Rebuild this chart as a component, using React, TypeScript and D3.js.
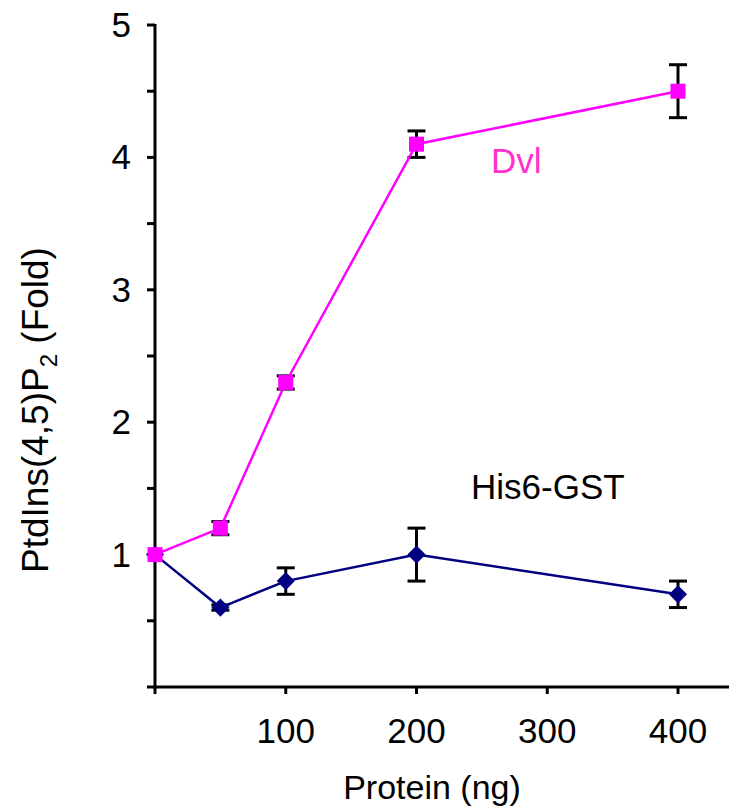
import React from 'react';
import * as d3 from 'd3';

// Protein amount (ng)
const protein = [0, 50, 100, 200, 400];

// PtdIns(4,5)P2 fold, mean and error
const dvlMean = [1.0, 1.2, 2.3, 4.1, 4.5];
const dvlErr = [0, 0.05, 0.05, 0.1, 0.2];
const gstMean = [1.0, 0.6, 0.8, 1.0, 0.7];
const gstErr = [0, 0.02, 0.1, 0.2, 0.1];

const xTicks = [0, 100, 200, 300, 400];
const xLabels = [100, 200, 300, 400];
const yTicks = d3.range(0, 5.01, 0.5);
const yLabels = [1, 2, 3, 4, 5];

const W = 729;
const H = 809;
const FONT = '"Liberation Sans", Arial, sans-serif';

export default function App() {
  const x = d3.scaleLinear().domain([0, 400]).range([155, 678]);
  const y = d3.scaleLinear().domain([0, 5]).range([687, 25]);

  const line = d3
    .line<number>()
    .x((_, i) => x(protein[i]))
    .y((d) => y(d));

  const errorBars = (mean: number[], err: number[], key: string) =>
    mean.map((m, i) =>
      err[i] > 0 ? (
        <g key={`${key}-${i}`} stroke="#000" strokeWidth={3}>
          <line x1={x(protein[i])} x2={x(protein[i])} y1={y(m + err[i])} y2={y(m - err[i])} />
          <line x1={x(protein[i]) - 9} x2={x(protein[i]) + 9} y1={y(m + err[i])} y2={y(m + err[i])} />
          <line x1={x(protein[i]) - 9} x2={x(protein[i]) + 9} y1={y(m - err[i])} y2={y(m - err[i])} />
        </g>
      ) : null
    );

  const diamond = d3.symbol().type(d3.symbolDiamond2).size(210)() as string;

  return (
    <div style={{ position: 'absolute', left: 0, top: 0 }}>
      <svg width={W} height={H} style={{ display: 'block', background: '#fff' }} fontFamily={FONT}>
        {/* axes */}
        <line x1={155} x2={155} y1={y(5) - 1} y2={y(0) + 1.5} stroke="#000" strokeWidth={3} />
        <line x1={153.5} x2={729} y1={y(0)} y2={y(0)} stroke="#000" strokeWidth={3} />
        {yTicks.map((t) => (
          <line key={`yt${t}`} x1={147} x2={155} y1={y(t)} y2={y(t)} stroke="#000" strokeWidth={3} />
        ))}
        {xTicks.map((t) => (
          <line key={`xt${t}`} x1={x(t)} x2={x(t)} y1={y(0)} y2={y(0) + 7} stroke="#000" strokeWidth={3} />
        ))}
        {yLabels.map((t) => (
          <text key={`yl${t}`} x={131} y={y(t) + 12} textAnchor="end" fontSize={35} fill="#000">
            {t}
          </text>
        ))}
        {xLabels.map((t) => (
          <text key={`xl${t}`} x={x(t)} y={743} textAnchor="middle" fontSize={35} fill="#000">
            {t}
          </text>
        ))}
        <text x={432} y={799} textAnchor="middle" fontSize={34} fill="#000">
          Protein (ng)
        </text>
        <text transform="translate(48,410) rotate(-90)" textAnchor="middle" fontSize={37} fill="#000">
          PtdIns(4,5)P<tspan fontSize={24} dy={9}>2</tspan>
          <tspan dy={-9}> (Fold)</tspan>
        </text>

        {/* error bars */}
        {errorBars(dvlMean, dvlErr, 'dvl')}
        {errorBars(gstMean, gstErr, 'gst')}

        {/* series lines */}
        <path d={line(gstMean) ?? ''} fill="none" stroke="#000080" strokeWidth={2.5} />
        <path d={line(dvlMean) ?? ''} fill="none" stroke="#ff00ff" strokeWidth={2.5} />

        {/* markers */}
        {gstMean.map((v, i) => (
          <path key={`gm${i}`} d={diamond} transform={`translate(${x(protein[i])},${y(v)})`} fill="#000080" />
        ))}
        {dvlMean.map((v, i) => (
          <rect key={`dm${i}`} x={x(protein[i]) - 7.5} y={y(v) - 7.5} width={15} height={15} fill="#ff00ff" />
        ))}

        {/* series labels */}
        <text x={491} y={173} fontSize={35} fill="#ff33cc">
          Dvl
        </text>
        <text x={471} y={499} fontSize={35} fill="#000">
          His6-GST
        </text>
      </svg>
    </div>
  );
}
